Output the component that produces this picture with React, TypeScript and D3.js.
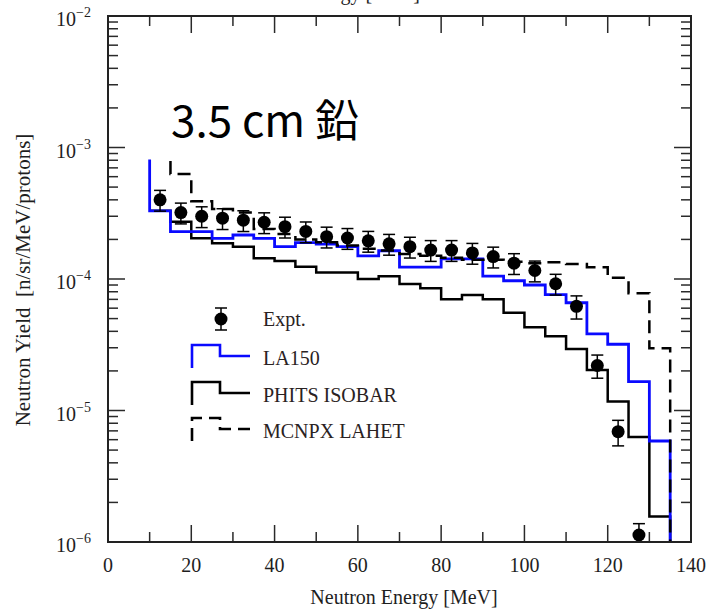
import React, { useRef, useEffect } from 'react';
import * as d3 from 'd3';

// histogram bin edges (MeV)
const binEdges = [10, 15, 20, 25, 30, 35, 40, 45, 50, 55, 60, 65, 70, 75, 80, 85, 90, 95, 100, 105, 110, 115, 120, 125, 130, 135];

// LA150 (blue step), one value per bin
const la150 = [3.3e-4, 2.29e-4, 2.29e-4, 2.04e-4, 2.16e-4, 2.04e-4, 1.76e-4, 1.89e-4, 1.84e-4, 1.76e-4, 1.5e-4, 1.64e-4, 1.23e-4, 1.23e-4, 1.42e-4, 1.42e-4, 1.05e-4, 9.7e-5, 9.0e-5, 7.6e-5, 6.6e-5, 3.82e-5, 3.19e-5, 1.66e-5, 5.86e-6];
const la150Top = 8.1e-4;

// PHITS ISOBAR (solid black step)
const phits = [3.3e-4, 2.73e-4, 2.04e-4, 1.87e-4, 1.76e-4, 1.44e-4, 1.37e-4, 1.24e-4, 1.12e-4, 1.12e-4, 1.0e-4, 1.05e-4, 9.16e-5, 8.49e-5, 7.0e-5, 7.55e-5, 7.0e-5, 5.55e-5, 4.3e-5, 3.67e-5, 2.94e-5, 2.03e-5, 1.17e-5, 6.3e-6, 1.56e-6];

// MCNPX LAHET (dashed step), no first bin
const mcnpx = [null, 6.3e-4, 3.9e-4, 3.4e-4, 3.2e-4, 2.4e-4, 2.2e-4, 2.0e-4, 1.9e-4, 1.8e-4, 1.7e-4, 1.65e-4, 1.55e-4, 1.5e-4, 1.45e-4, 1.4e-4, 1.4e-4, 1.35e-4, 1.32e-4, 1.34e-4, 1.3e-4, 1.23e-4, 1.02e-4, 7.8e-5, 2.98e-5];
const mcnpxTop = 7.9e-4;

// experiment points
const exptEnergy = [12.5, 17.5, 22.5, 27.5, 32.5, 37.5, 42.5, 47.5, 52.5, 57.5, 62.5, 67.5, 72.5, 77.5, 82.5, 87.5, 92.5, 97.5, 102.5, 107.5, 112.5, 117.5, 122.5, 127.5];
const exptYield = [4.0e-4, 3.2e-4, 3.0e-4, 2.9e-4, 2.8e-4, 2.7e-4, 2.5e-4, 2.3e-4, 2.1e-4, 2.05e-4, 1.95e-4, 1.85e-4, 1.76e-4, 1.66e-4, 1.66e-4, 1.58e-4, 1.48e-4, 1.32e-4, 1.16e-4, 9.2e-5, 6.2e-5, 2.2e-5, 6.9e-6, 1.13e-6];
const exptRelErr = [0.18, 0.18, 0.18, 0.18, 0.18, 0.18, 0.18, 0.18, 0.18, 0.18, 0.18, 0.18, 0.18, 0.18, 0.18, 0.18, 0.18, 0.18, 0.18, 0.18, 0.2, 0.2, 0.22, 0.22];

const xMajorTicks = [0, 20, 40, 60, 80, 100, 120, 140];
const xMinorTicks = [10, 30, 50, 70, 90, 110, 130];
const yDecades = [1e-6, 1e-5, 1e-4, 1e-3, 1e-2];
const yExponents = ['−6', '−5', '−4', '−3', '−2'];

const SERIF = '"Liberation Serif", "DejaVu Serif", serif';

const App = () => {
  const chartRef = useRef(null);

  useEffect(() => {
    const width = 706;
    const height = 609;
    const left = 108, right = 691, top = 16, bottom = 542;

    d3.select(chartRef.current).selectAll('*').remove();

    const svg = d3.select(chartRef.current)
      .append('svg')
      .attr('width', width)
      .attr('height', height)
      .style('display', 'block')
      .style('background', '#fff');

    const x = d3.scaleLinear().domain([0, 140]).range([left, right]);
    const y = d3.scaleLog().domain([1e-6, 1e-2]).range([bottom, top]);

    svg.append('defs').append('clipPath').attr('id', 'plot-clip')
      .append('rect')
      .attr('x', left).attr('y', top)
      .attr('width', right - left).attr('height', bottom - top);

    // cut-off title of the panel above
    svg.append('text')
      .attr('x', 420).attr('y', 0)
      .attr('text-anchor', 'end')
      .attr('font-family', SERIF).attr('font-size', 20)
      .attr('fill', '#222')
      .text('Neutron Energy [MeV]');

    // ticks
    const tickColor = '#2a2a2a';
    const ticks = svg.append('g').attr('stroke', tickColor).attr('stroke-width', 1.5);
    const xt = [...xMajorTicks.map(v => [v, 17]), ...xMinorTicks.map(v => [v, 10])];
    xt.forEach(([v, len]) => {
      ticks.append('line').attr('x1', x(v)).attr('x2', x(v)).attr('y1', bottom).attr('y2', bottom - len);
      ticks.append('line').attr('x1', x(v)).attr('x2', x(v)).attr('y1', top).attr('y2', top + len);
    });
    const yt = yDecades.map(v => [v, 17]);
    yDecades.slice(0, -1).forEach(d => {
      for (let k = 2; k <= 9; k++) yt.push([k * d, 10]);
    });
    yt.forEach(([v, len]) => {
      ticks.append('line').attr('x1', left).attr('x2', left + len).attr('y1', y(v)).attr('y2', y(v));
      ticks.append('line').attr('x1', right).attr('x2', right - len).attr('y1', y(v)).attr('y2', y(v));
    });

    // x tick labels
    svg.append('g').selectAll('text')
      .data(xMajorTicks)
      .enter().append('text')
      .attr('x', d => x(d))
      .attr('y', 572)
      .attr('text-anchor', 'middle')
      .attr('font-family', SERIF).attr('font-size', 20)
      .attr('fill', '#1e1e1e')
      .text(d => d);

    // y tick labels 10^n
    const yl = svg.append('g').selectAll('text')
      .data(yDecades)
      .enter().append('text')
      .attr('x', 91)
      .attr('y', d => y(d) + 10)
      .attr('text-anchor', 'end')
      .attr('font-family', SERIF)
      .attr('fill', '#1e1e1e');
    yl.append('tspan').attr('font-size', 20).text('10');
    yl.append('tspan').attr('font-size', 14).attr('dy', -9).text((d, i) => yExponents[i]);

    // axis titles
    svg.append('text')
      .attr('x', 404).attr('y', 604)
      .attr('text-anchor', 'middle')
      .attr('font-family', SERIF).attr('font-size', 20)
      .attr('fill', '#1e1e1e')
      .text('Neutron Energy [MeV]');

    svg.append('text')
      .attr('transform', 'translate(30,280) rotate(-90)')
      .attr('text-anchor', 'middle')
      .attr('font-family', SERIF).attr('font-size', 21)
      .attr('fill', '#1e1e1e')
      .style('white-space', 'pre')
      .text('Neutron Yield  [n/sr/MeV/protons]');

    // step builders
    const stepPoints = (vals, topVal) => {
      const pts = [];
      const first = vals.findIndex(v => v != null);
      pts.push([binEdges[first], topVal != null ? topVal : vals[first]]);
      for (let i = first; i < vals.length; i++) {
        pts.push([binEdges[i], vals[i]]);
        pts.push([binEdges[i + 1], vals[i]]);
      }
      pts.push([binEdges[binEdges.length - 1], 1e-6]);
      return pts;
    };
    const line = d3.line().x(d => x(d[0])).y(d => y(d[1]));

    const plot = svg.append('g').attr('clip-path', 'url(#plot-clip)');

    plot.append('path')
      .attr('d', line(stepPoints(phits, null)))
      .attr('fill', 'none').attr('stroke', '#000').attr('stroke-width', 2.5);

    plot.append('path')
      .attr('d', line(stepPoints(la150, la150Top)))
      .attr('fill', 'none').attr('stroke', '#0a0aff').attr('stroke-width', 2.8);

    plot.append('path')
      .attr('d', line(stepPoints(mcnpx, mcnpxTop)))
      .attr('fill', 'none').attr('stroke', '#000').attr('stroke-width', 2.5)
      .attr('stroke-dasharray', '13,7');

    // experiment points with error bars
    const pts = plot.append('g');
    exptEnergy.forEach((e, i) => {
      const cx = x(e);
      const v = exptYield[i];
      const hi = y(v * (1 + exptRelErr[i]));
      const lo = y(v * (1 - exptRelErr[i]));
      pts.append('line').attr('x1', cx).attr('x2', cx).attr('y1', hi).attr('y2', lo)
        .attr('stroke', '#000').attr('stroke-width', 1.5);
      [hi, lo].forEach(yy => {
        pts.append('line').attr('x1', cx - 6).attr('x2', cx + 6).attr('y1', yy).attr('y2', yy)
          .attr('stroke', '#000').attr('stroke-width', 1.5);
      });
      pts.append('circle').attr('cx', cx).attr('cy', y(v)).attr('r', 6.5).attr('fill', '#000');
    });

    // frame
    svg.append('rect')
      .attr('x', left).attr('y', top)
      .attr('width', right - left).attr('height', bottom - top)
      .attr('fill', 'none').attr('stroke', '#222').attr('stroke-width', 2);

    // legend
    const lg = svg.append('g');
    lg.append('line').attr('x1', 221).attr('x2', 221).attr('y1', 308).attr('y2', 330).attr('stroke', '#000').attr('stroke-width', 1.5);
    [308, 330].forEach(yy => lg.append('line').attr('x1', 215).attr('x2', 227).attr('y1', yy).attr('y2', yy).attr('stroke', '#000').attr('stroke-width', 1.5));
    lg.append('circle').attr('cx', 221).attr('cy', 319).attr('r', 6.5).attr('fill', '#000');

    const legendStep = (y0, color, dash) => {
      const p = lg.append('path')
        .attr('d', `M192,${y0 + 23}V${y0}H220V${y0 + 11}H250`)
        .attr('fill', 'none').attr('stroke', color).attr('stroke-width', 2.6);
      if (dash) p.attr('stroke-dasharray', dash);
    };
    legendStep(345, '#0a0aff', null);
    legendStep(382, '#000', null);
    legendStep(418, '#000', '13,7');

    const legendLabels = ['Expt.', 'LA150', 'PHITS ISOBAR', 'MCNPX LAHET'];
    const legendBaselines = [326, 365, 402, 438];
    legendLabels.forEach((t, i) => {
      lg.append('text')
        .attr('x', 263).attr('y', legendBaselines[i])
        .attr('font-family', SERIF).attr('font-size', 20)
        .attr('fill', '#2a2222')
        .text(t);
    });

    // annotation
    svg.append('text')
      .attr('x', 171).attr('y', 137)
      .attr('font-family', '"Noto Sans CJK JP", "Noto Sans", sans-serif')
      .attr('font-size', 44)
      .attr('fill', '#000')
      .text('3.5 cm 鉛');
  }, []);

  return (
    <div ref={chartRef} style={{ position: 'absolute', left: 0, top: 0 }}></div>
  );
};

export default App;
